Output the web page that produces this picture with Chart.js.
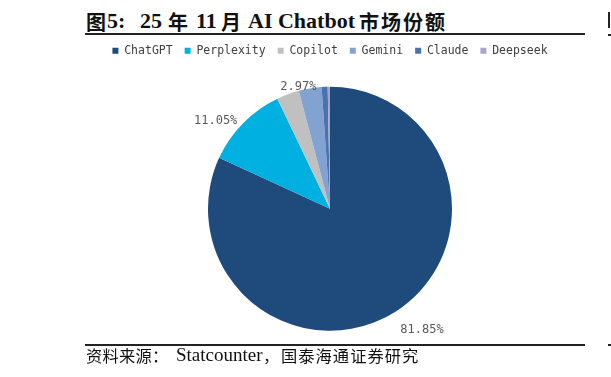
<!DOCTYPE html>
<html>
<head>
<meta charset="utf-8">
<script src="https://cdn.jsdelivr.net/npm/chart.js@4/dist/chart.umd.min.js"></script>
<style>
  body { margin: 0; background: #fff; width: 611px; height: 377px; position: relative; overflow: hidden; }
  .t { position: absolute; white-space: nowrap; color: #111; line-height: 1; }
  .tl { font: bold 22px "Liberation Serif", serif; top: 8px; }
  .tc { font: bold 20px "Noto Sans CJK SC", sans-serif; top: 7px; }
  .sl { font: 19px "Liberation Serif", serif; top: 344px; }
  .sc { font: 16.3px "Noto Sans CJK SC", sans-serif; top: 343px; }
  .rule { position: absolute; background: #222; }
  #chart { position: absolute; left: 0; top: 0; }
</style>
</head>
<body>
<span class="t tc" style="left:86px;">图</span>
<span class="t tl" style="left:107px;">5:</span>
<span class="t tl" style="left:140px;">25</span>
<span class="t tc" style="left:168px;">年</span>
<span class="t tl" style="left:196px;">11</span>
<span class="t tc" style="left:221px;">月</span>
<span class="t tl" style="left:248px;">AI Chatbot</span>
<span class="t tc" style="left:359px; letter-spacing:2px;">市场份额</span>
<div class="rule" style="left:85px; top:33px; width:500px; height:2px;"></div>
<div class="rule" style="left:608px; top:12px; width:2px; height:16px;"></div>
<div class="rule" style="left:608px; top:34px; width:3px; height:2px;"></div>
<canvas id="chart" width="611" height="377"></canvas>
<div class="rule" style="left:85px; top:344px; width:500px; height:1.5px;"></div>
<div class="rule" style="left:608px; top:344px; width:3px; height:1.5px;"></div>
<span class="t sc" style="left:86px; letter-spacing:0.2px;">资料来源：</span>
<span class="t sl" style="left:176px;">Statcounter</span>
<span class="t sc" style="left:263px;">，</span>
<span class="t sc" style="left:281px; letter-spacing:1px;">国泰海通证券研究</span>

<script>
// ======================================
// DATA
// ======================================
const bots = ["ChatGPT", "Perplexity", "Copilot", "Gemini", "Claude", "Deepseek"];
const shares = [81.85, 11.05, 2.97, 3.03, 0.80, 0.30];
const shownLabels = ["81.85%", "11.05%", "2.97%", "", "", ""];

const colors = ["#1f4a7c", "#00b0e0", "#c0c0c0", "#82a2d2", "#4a72ae", "#aaa4cb"];

// label nudges (Excel "best fit" placement)
const labelNudge = [[13, -2], [-10, 15], [19, 16], [0, 0], [0, 0], [0, 0]];

// ======================================
// DATA LABEL PLUGIN
// ======================================
const pieLabels = {
    id: "pieLabels",
    afterDatasetsDraw(chart) {
        const c = chart.ctx;
        const meta = chart.getDatasetMeta(0);
        c.save();
        c.font = "12px 'DejaVu Sans Mono', monospace";
        c.fillStyle = "#595959";
        c.textAlign = "center";
        c.textBaseline = "middle";
        meta.data.forEach((arc, i) => {
            const txt = shownLabels[i];
            if (!txt) return;
            const mid = (arc.startAngle + arc.endAngle) / 2;
            const d = arc.outerRadius * 1.2;
            const x = arc.x + Math.cos(mid) * d + labelNudge[i][0];
            const y = arc.y + Math.sin(mid) * d + labelNudge[i][1];
            c.fillText(txt, x, y);
        });
        c.restore();
    }
};

// ======================================
// CHART INIT
// ======================================
const ctx = document.getElementById("chart");
new Chart(ctx, {
    type: "pie",
    data: {
        labels: bots,
        datasets: [{
            data: shares,
            backgroundColor: colors,
            borderWidth: 0,
            radius: 122
        }]
    },
    options: {
        responsive: false,
        animation: false,
        layout: { padding: { left: 49, right: 0, top: 33, bottom: 26 } },
        plugins: {
            legend: {
                position: "top",
                labels: {
                    boxWidth: 6,
                    boxHeight: 6,
                    padding: 12,
                    color: "#404040",
                    font: { family: "'DejaVu Sans Mono', monospace", size: 11.5 }
                }
            },
            tooltip: { enabled: false }
        }
    },
    plugins: [pieLabels]
});
</script>
</body>
</html>
